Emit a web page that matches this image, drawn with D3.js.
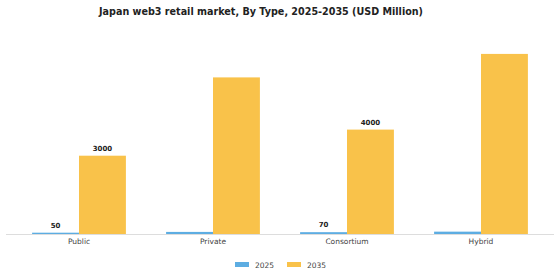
<!DOCTYPE html>
<html><head><meta charset="utf-8">
<script src="https://cdn.jsdelivr.net/npm/d3@7"></script>
<style>body{margin:0;background:#fff;} svg{display:block;}</style>
</head><body>
<svg id="c" width="560" height="280"></svg>
<script>
const categories = ["Public", "Private", "Consortium", "Hybrid"];
const seriesNames = ["2025", "2035"];
const values2025 = [50, 80, 70, 90];
const values2035 = [3000, 6000, 4000, 6900];
const labelled = [true, false, true, false];
const colors = ["#5dade2", "#f9c24a"];

const svg = d3.select("#c");
const W = 560, H = 280;
const m = {left: 12, right: 12, top: 20, bottom: 46};
const baseY = 234;

svg.append("text").attr("x", 261).attr("y", 15).attr("text-anchor", "middle")
  .attr("font-family", "DejaVu Sans").attr("font-weight", "bold").attr("font-size", 9.6)
  .attr("fill", "#222").text("Japan web3 retail market, By Type, 2025-2035 (USD Million)");

const x0 = d3.scaleBand().domain(categories).range([m.left, W - m.right]).paddingInner(0.3).paddingOuter(0.15);
const x1 = d3.scaleBand().domain(seriesNames).range([0, x0.bandwidth()]);
const y = d3.scaleLinear().domain([0, 7000]).range([baseY, baseY - 0.0261 * 7000]);

const data = categories.map((c, i) => ({c, vals: [values2025[i], values2035[i]], lab: labelled[i]}));

const g = svg.append("g");
data.forEach(d => {
  d.vals.forEach((v, j) => {
    g.append("rect").attr("x", x0(d.c) + x1(seriesNames[j])).attr("width", x1.bandwidth())
      .attr("y", y(v)).attr("height", baseY - y(v)).attr("fill", colors[j]);
    if (d.lab) {
      g.append("text").attr("x", x0(d.c) + x1(seriesNames[j]) + x1.bandwidth() / 2)
        .attr("y", y(v) - 5).attr("text-anchor", "middle")
        .attr("font-family", "DejaVu Sans").attr("font-weight", "bold").attr("font-size", 7)
        .attr("fill", "#222").text(v);
    }
  });
});

const ax = svg.append("g").attr("transform", `translate(0,${baseY})`)
  .call(d3.axisBottom(x0).tickSize(0).tickPadding(5));
ax.select(".domain").attr("stroke", "#ddd").attr("d", "M6,0.5H554");
ax.selectAll("text").attr("font-family", "DejaVu Sans").attr("font-size", 7.5).attr("fill", "#444");

const leg = svg.append("g");
const lx = [235, 287];
seriesNames.forEach((s, j) => {
  leg.append("rect").attr("x", lx[j]).attr("y", 262).attr("width", 14).attr("height", 5).attr("fill", colors[j]);
  leg.append("text").attr("x", lx[j] + 20).attr("y", 268).attr("font-family", "DejaVu Sans")
    .attr("font-size", 7.5).attr("fill", "#444").text(s);
});
</script>
</body></html>
